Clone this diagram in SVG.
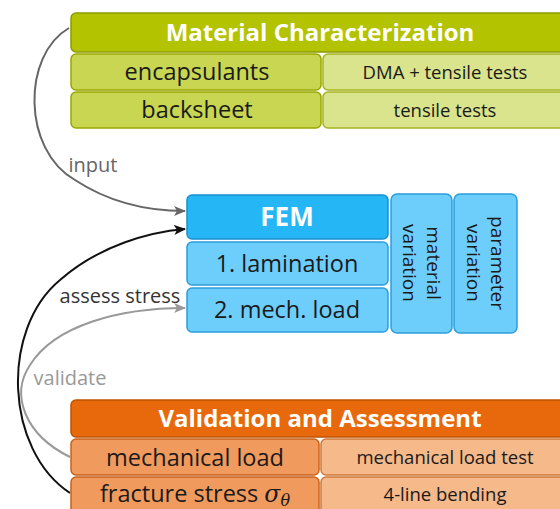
<svg xmlns="http://www.w3.org/2000/svg" width="560" height="509" viewBox="0 0 560 509">
<style>
text{font-family:"Open Sans","DejaVu Sans",sans-serif;text-anchor:middle}
.hd{font-weight:bold;fill:#fff;font-size:24px}
.big{fill:#1a1a1a;font-size:23.5px}
.sm{fill:#1a1a1a;font-size:18.5px}
.g1{fill:#b3c300;stroke:#8d9c00;stroke-width:1.5}
.g2{fill:#c8d652;stroke:#99a800;stroke-width:1.5}
.g3{fill:#d9e48c;stroke:#a6b420;stroke-width:1.5}
.b1{fill:#25b6f6;stroke:#1a8fcf;stroke-width:1.5}
.b2{fill:#6dcefc;stroke:#2b9fdc;stroke-width:1.5}
.o1{fill:#e8690b;stroke:#bf5300;stroke-width:1.5}
.o2{fill:#f19a5e;stroke:#c9621a;stroke-width:1.5}
.o3{fill:#f5b98a;stroke:#cf7a3a;stroke-width:1.5}
.lbl{font-size:20px}
</style>
<defs>
<marker id="ahg" viewBox="0 0 12 10" refX="11" refY="5" markerWidth="12" markerHeight="10" markerUnits="userSpaceOnUse" orient="auto">
<path d="M0,0 L12,5 L0,10 L3,5 z" fill="#666"/>
</marker>
<marker id="ahk" viewBox="0 0 12 10" refX="11" refY="5" markerWidth="12" markerHeight="10" markerUnits="userSpaceOnUse" orient="auto">
<path d="M0,0 L12,5 L0,10 L3,5 z" fill="#111"/>
</marker>
<marker id="ahl" viewBox="0 0 12 10" refX="11" refY="5" markerWidth="12" markerHeight="10" markerUnits="userSpaceOnUse" orient="auto">
<path d="M0,0 L12,5 L0,10 L3,5 z" fill="#999"/>
</marker>
</defs>
<g id="connectors" fill="none">
<path d="M69,28 C22,55 22,150 75,180 C110,203 150,211 185,211" stroke="#666" stroke-width="2" marker-end="url(#ahg)"/>
<path d="M70,493 C5,450 0,330 60,280 C100,245 150,232 185,229" stroke="#111" stroke-width="2" marker-end="url(#ahk)"/>
<path d="M70,457 C25,435 10,395 30,365 C55,325 120,308 185,308" stroke="#999" stroke-width="2" marker-end="url(#ahl)"/>
<text x="93" y="172" class="lbl" style="fill:#666">input</text>
<text x="120" y="303" class="lbl" style="fill:#333">assess stress</text>
<text x="70" y="385" class="lbl" style="fill:#999">validate</text>
</g>
<g id="material-characterization">
<rect x="71" y="13" width="500" height="39" rx="5" class="g1"/>
<text x="320" y="41" class="hd">Material Characterization</text>
</g>
<g id="encapsulants">
<rect x="71" y="54" width="250" height="36" rx="5" class="g2"/>
<text x="197" y="80" class="big">encapsulants</text>
</g>
<g id="dma-tensile">
<rect x="323" y="54" width="250" height="36" rx="5" class="g3"/>
<text x="445" y="79" class="sm">DMA + tensile tests</text>
</g>
<g id="backsheet">
<rect x="71" y="92" width="250" height="36" rx="5" class="g2"/>
<text x="197" y="118" class="big">backsheet</text>
</g>
<g id="tensile">
<rect x="323" y="92" width="250" height="36" rx="5" class="g3"/>
<text x="445" y="117" class="sm">tensile tests</text>
</g>
<g id="fem">
<rect x="187" y="195" width="201" height="44" rx="5" class="b1"/>
<text x="287" y="226" class="hd" style="font-size:26px">FEM</text>
</g>
<g id="lamination">
<rect x="187" y="242" width="201" height="43" rx="5" class="b2"/>
<text x="287" y="272" class="big">1. lamination</text>
</g>
<g id="mech-load">
<rect x="187" y="288" width="201" height="44" rx="5" class="b2"/>
<text x="287" y="318" class="big">2. mech. load</text>
</g>
<g id="material-variation">
<rect x="391" y="194" width="61" height="139" rx="6" class="b2"/>
<text transform="translate(421,263) rotate(90)" class="sm" style="font-size:19px"><tspan x="0" y="-6">material</tspan><tspan x="0" y="18">variation</tspan></text>
</g>
<g id="parameter-variation">
<rect x="454" y="194" width="63" height="139" rx="6" class="b2"/>
<text transform="translate(485,263) rotate(90)" class="sm" style="font-size:19px"><tspan x="0" y="-6">parameter</tspan><tspan x="0" y="18">variation</tspan></text>
</g>
<g id="validation-assessment">
<rect x="71" y="400" width="500" height="37" rx="5" class="o1"/>
<text x="320" y="427" class="hd">Validation and Assessment</text>
</g>
<g id="mechanical-load">
<rect x="71" y="439" width="248" height="36" rx="5" class="o2"/>
<text x="195" y="466" class="big">mechanical load</text>
</g>
<g id="mechanical-load-test">
<rect x="321" y="439" width="250" height="36" rx="5" class="o3"/>
<text x="445" y="464" class="sm">mechanical load test</text>
</g>
<g id="fracture-stress">
<rect x="71" y="477" width="248" height="40" rx="5" class="o2"/>
<text x="195" y="502" class="big">fracture stress <tspan font-style="italic" font-family="'DejaVu Serif',serif">σ<tspan font-size="16" dy="4">θ</tspan></tspan></text>
</g>
<g id="four-line-bending">
<rect x="321" y="477" width="250" height="40" rx="5" class="o3"/>
<text x="445" y="501" class="sm">4-line bending</text>
</g>
</svg>
